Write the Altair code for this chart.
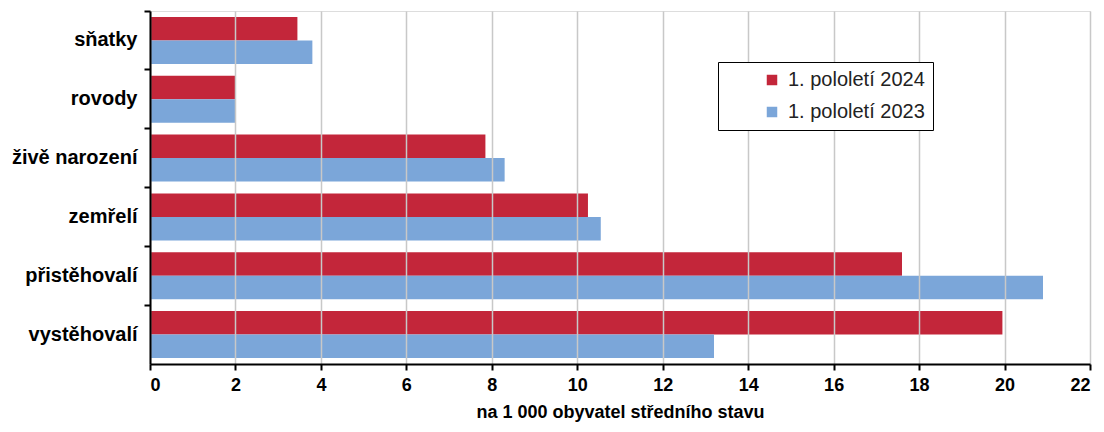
import altair as alt
import pandas as pd

categories = ["sňatky", "rovody", "živě narození", "zemřelí", "přistěhovalí", "vystěhovalí"]
series = ["1. pololetí 2024", "1. pololetí 2023"]
values_2024 = [3.45, 2.0, 7.85, 10.25, 17.6, 19.95]
values_2023 = [3.8, 2.0, 8.3, 10.55, 20.9, 13.2]
colors = ["#C3263A", "#7BA6D9"]
x_ticks = list(range(0, 23, 2))

rows = []
for c, v in zip(categories, values_2024):
    rows.append({"kat": c, "serie": series[0], "hodnota": v})
for c, v in zip(categories, values_2023):
    rows.append({"kat": c, "serie": series[1], "hodnota": v})
df = pd.DataFrame(rows)

FONT = "Liberation Sans"

chart = alt.Chart(df).mark_bar(opacity=1).encode(
    x=alt.X("hodnota:Q",
            scale=alt.Scale(domain=[0, 22], nice=False, zero=True),
            axis=alt.Axis(values=x_ticks, title="na 1 000 obyvatel středního stavu",
                          grid=True, gridColor="#C8C8C8", gridWidth=1.5,
                          domainColor="#000000", domainWidth=2,
                          tickColor="#000000", tickWidth=2, tickSize=6,
                          labelFont=FONT, labelFontSize=18, labelFontWeight="bold",
                          labelColor="#000000", labelPadding=6,
                          titleFont=FONT, titleFontSize=18, titleFontWeight="bold",
                          titleColor="#000000", titlePadding=9, zindex=1)),
    y=alt.Y("kat:N", sort=categories,
            scale=alt.Scale(paddingInner=0, paddingOuter=0),
            axis=alt.Axis(title=None, bandPosition=0, grid=False,
                          domainColor="#000000", domainWidth=2,
                          tickColor="#000000", tickWidth=2, tickSize=6,
                          labelFont=FONT, labelFontSize=20, labelFontWeight="bold",
                          labelColor="#000000", labelPadding=7, zindex=1)),
    yOffset=alt.YOffset("serie:N", sort=series,
                        scale=alt.Scale(paddingInner=0, paddingOuter=0.25)),
    color=alt.Color("serie:N", sort=series,
                    scale=alt.Scale(domain=series, range=colors),
                    legend=alt.Legend(title=None, orient="none", legendX=568, legendY=51,
                                      symbolType="square", symbolSize=110,
                                      symbolStrokeWidth=0, symbolOffset=36,
                                      labelFont=FONT, labelFontSize=20,
                                      labelColor="#222222", labelOffset=6,
                                      rowPadding=12, padding=8, zindex=3,
                                      strokeColor="#000000", fillColor="#FFFFFF")),
).properties(
    width=940,
    height=353,
    autosize=alt.AutoSizeParams(type="none"),
    padding={"left": 142, "top": 3, "right": 6, "bottom": 60},
).configure_view(
    stroke="#595959", strokeWidth=2
).configure(background="#FFFFFF")

chart.save("out.html", embed_options={"renderer": "svg", "actions": False})
